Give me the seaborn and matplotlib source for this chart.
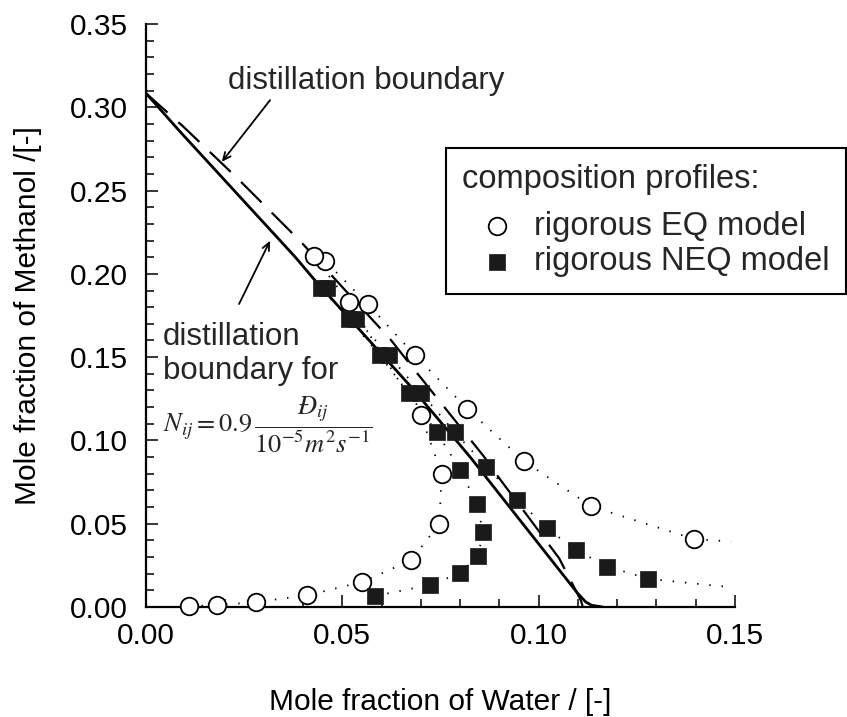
import numpy as np
import pandas as pd
import matplotlib
matplotlib.use("Agg")
import matplotlib.pyplot as plt
from matplotlib.ticker import MultipleLocator, FormatStrFormatter
import seaborn as sns

# ---------------- data ----------------
# EQ model composition profile (open circles), two branches
eq_right_x = [0.1396, 0.1134, 0.0963, 0.0818, 0.0684, 0.0565, 0.0455]
eq_right_y = [0.0408, 0.0604, 0.0875, 0.1190, 0.1514, 0.1819, 0.2080]
eq_low_x = [0.0110, 0.0180, 0.0280, 0.0410, 0.0550, 0.0675, 0.0747, 0.0753, 0.0700, 0.0516, 0.0427]
eq_low_y = [0.0006, 0.0010, 0.0030, 0.0070, 0.0150, 0.0280, 0.0500, 0.0800, 0.1150, 0.1833, 0.2107]
eq_tail_x = [0.1396, 0.1490]
eq_tail_y = [0.0408, 0.0393]

# NEQ model composition profile (filled squares), two branches
neq_right_x = [0.1279, 0.1175, 0.1094, 0.1020, 0.0946, 0.0867, 0.0786, 0.0701, 0.0618, 0.0536, 0.0462]
neq_right_y = [0.0169, 0.0243, 0.0343, 0.0474, 0.0645, 0.0842, 0.1050, 0.1283, 0.1512, 0.1729, 0.1914]
neq_low_x = [0.0584, 0.0723, 0.0800, 0.0845, 0.0859, 0.0842, 0.0800, 0.0740, 0.0669, 0.0595, 0.0518, 0.0445]
neq_low_y = [0.0066, 0.0133, 0.0203, 0.0307, 0.0448, 0.0620, 0.0825, 0.1050, 0.1283, 0.1512, 0.1729, 0.1914]
neq_tail_x = [0.1279, 0.1477]
neq_tail_y = [0.0169, 0.0122]

# distillation boundary (dashed) and boundary for N_ij = 0.9 D_ij/... (solid)
bound_x = [0.0, 0.0095, 0.0231, 0.0395, 0.0469, 0.0622, 0.0686, 0.0860, 0.0899, 0.0963, 0.1052, 0.1107, 0.1112]
bound_y = [0.3084, 0.2884, 0.2578, 0.2191, 0.2000, 0.1608, 0.1417, 0.0905, 0.0775, 0.0574, 0.0293, 0.0042, 0.0006]
bound_neq_x = [0.0, 0.0087, 0.0380, 0.0427, 0.0673, 0.0827, 0.1099, 0.1120, 0.1135, 0.1163]
bound_neq_y = [0.3084, 0.2853, 0.2101, 0.1970, 0.1327, 0.0896, 0.0083, 0.0030, 0.0010, 0.0000]

x_ticks = [0.00, 0.05, 0.10, 0.15]
y_ticks = [0.00, 0.05, 0.10, 0.15, 0.20, 0.25, 0.30, 0.35]

# ---------------- style ----------------
sns.set_style("ticks")
plt.rcParams["font.family"] = ["Liberation Sans", "DejaVu Sans"]
FS = 21.5
FS_NOTE = 22.5
FS_LEG = 23.5

fig = plt.figure(figsize=(8.47, 7.17), dpi=100)
ax = fig.add_axes([146 / 847, 1 - 607 / 717, (735 - 146) / 847, (607 - 24) / 717])

# boundaries
sns.lineplot(x=bound_x, y=bound_y, sort=False, estimator=None, ax=ax, color="black",
             lw=1.6, linestyle=(0, (13, 6.5)), zorder=2)
sns.lineplot(x=bound_neq_x, y=bound_neq_y, sort=False, estimator=None, ax=ax, color="black",
             lw=2.0, zorder=2)

# dotted profile lines
dot = (0, (0.8, 6.0))
for xs, ys in [(eq_right_x, eq_right_y), (eq_low_x, eq_low_y), (eq_tail_x, eq_tail_y),
               (neq_right_x, neq_right_y), (neq_low_x, neq_low_y), (neq_tail_x, neq_tail_y)]:
    sns.lineplot(x=xs, y=ys, sort=False, estimator=None, ax=ax, color="black",
                 lw=1.3, linestyle=dot, zorder=2)

# markers
eq_df = pd.DataFrame({"x": eq_right_x + eq_low_x, "y": eq_right_y + eq_low_y})
neq_df = pd.DataFrame({"x": neq_right_x + neq_low_x, "y": neq_right_y + neq_low_y})
sns.scatterplot(data=eq_df, x="x", y="y", ax=ax, marker="o", s=160, color="white",
                edgecolor="black", linewidth=1.3, zorder=3, clip_on=False,
                label="rigorous EQ model")
sns.scatterplot(data=neq_df, x="x", y="y", ax=ax, marker="s", s=135, color="#1a1a1a",
                edgecolor="#1a1a1a", linewidth=0.5, zorder=4, clip_on=False,
                label="rigorous NEQ model")

# axes
ax.set_xlim(0, 0.15)
ax.set_ylim(0, 0.35)
ax.set_xticks(x_ticks)
ax.set_yticks(y_ticks)
ax.xaxis.set_minor_locator(MultipleLocator(0.01))
ax.yaxis.set_minor_locator(MultipleLocator(0.01))
ax.xaxis.set_major_formatter(FormatStrFormatter("%.2f"))
ax.yaxis.set_major_formatter(FormatStrFormatter("%.2f"))
ax.tick_params(which="both", direction="in", top=False, right=False, colors="black",
               labelsize=FS, width=1.1)
ax.tick_params(which="major", length=8.6)
ax.tick_params(which="minor", length=5.8)
ax.tick_params(axis="y", pad=13)
ax.tick_params(axis="x", pad=11)
for s in ["top", "right"]:
    ax.spines[s].set_visible(False)
for s in ["left", "bottom"]:
    ax.spines[s].set_color("black")
    ax.spines[s].set_linewidth(1.6)
ax.set_xlabel("Mole fraction of Water / [-]", fontsize=FS, labelpad=27, color="black")
ax.set_ylabel("Mole fraction of Methanol /[-]", fontsize=FS, labelpad=20, color="black")

# annotations
arrow = dict(arrowstyle="->,head_length=0.55,head_width=0.25", lw=1.3, color="black",
             shrinkA=0, shrinkB=0)
ax.text(0.0209, 0.3157, "distillation boundary", fontsize=FS_NOTE, ha="left", va="center")
ax.annotate("", xy=(0.0193, 0.2672), xytext=(0.0316, 0.3043), arrowprops=arrow)
ax.annotate("", xy=(0.0316, 0.2199), xytext=(0.0237, 0.1819), arrowprops=arrow)
ax.text(0.0043, 0.1518, "distillation\nboundary for", fontsize=FS_NOTE, ha="left",
        va="center", linespacing=1.2)
ax.text(0.0043, 0.1096, r"$N_{ij} = 0.9\,\dfrac{\mathit{Đ}_{ij}}{10^{-5}m^{2}s^{-1}}$",
        fontsize=19, ha="left", va="center", math_fontfamily="stix")

# legend
leg = ax.legend(title="composition profiles:", loc="upper left",
                bbox_to_anchor=(446 / 847, 1 - 148 / 717), bbox_transform=fig.transFigure,
                frameon=True, fancybox=False, edgecolor="black", framealpha=1,
                fontsize=FS_LEG, title_fontsize=FS_LEG, alignment="left", borderpad=0.5,
                labelspacing=0.15, handlelength=2.1, handletextpad=0.1, borderaxespad=0)
leg.get_frame().set_linewidth(1.5)
leg._legend_box.sep = 11

fig.savefig("out.png", dpi=100)
